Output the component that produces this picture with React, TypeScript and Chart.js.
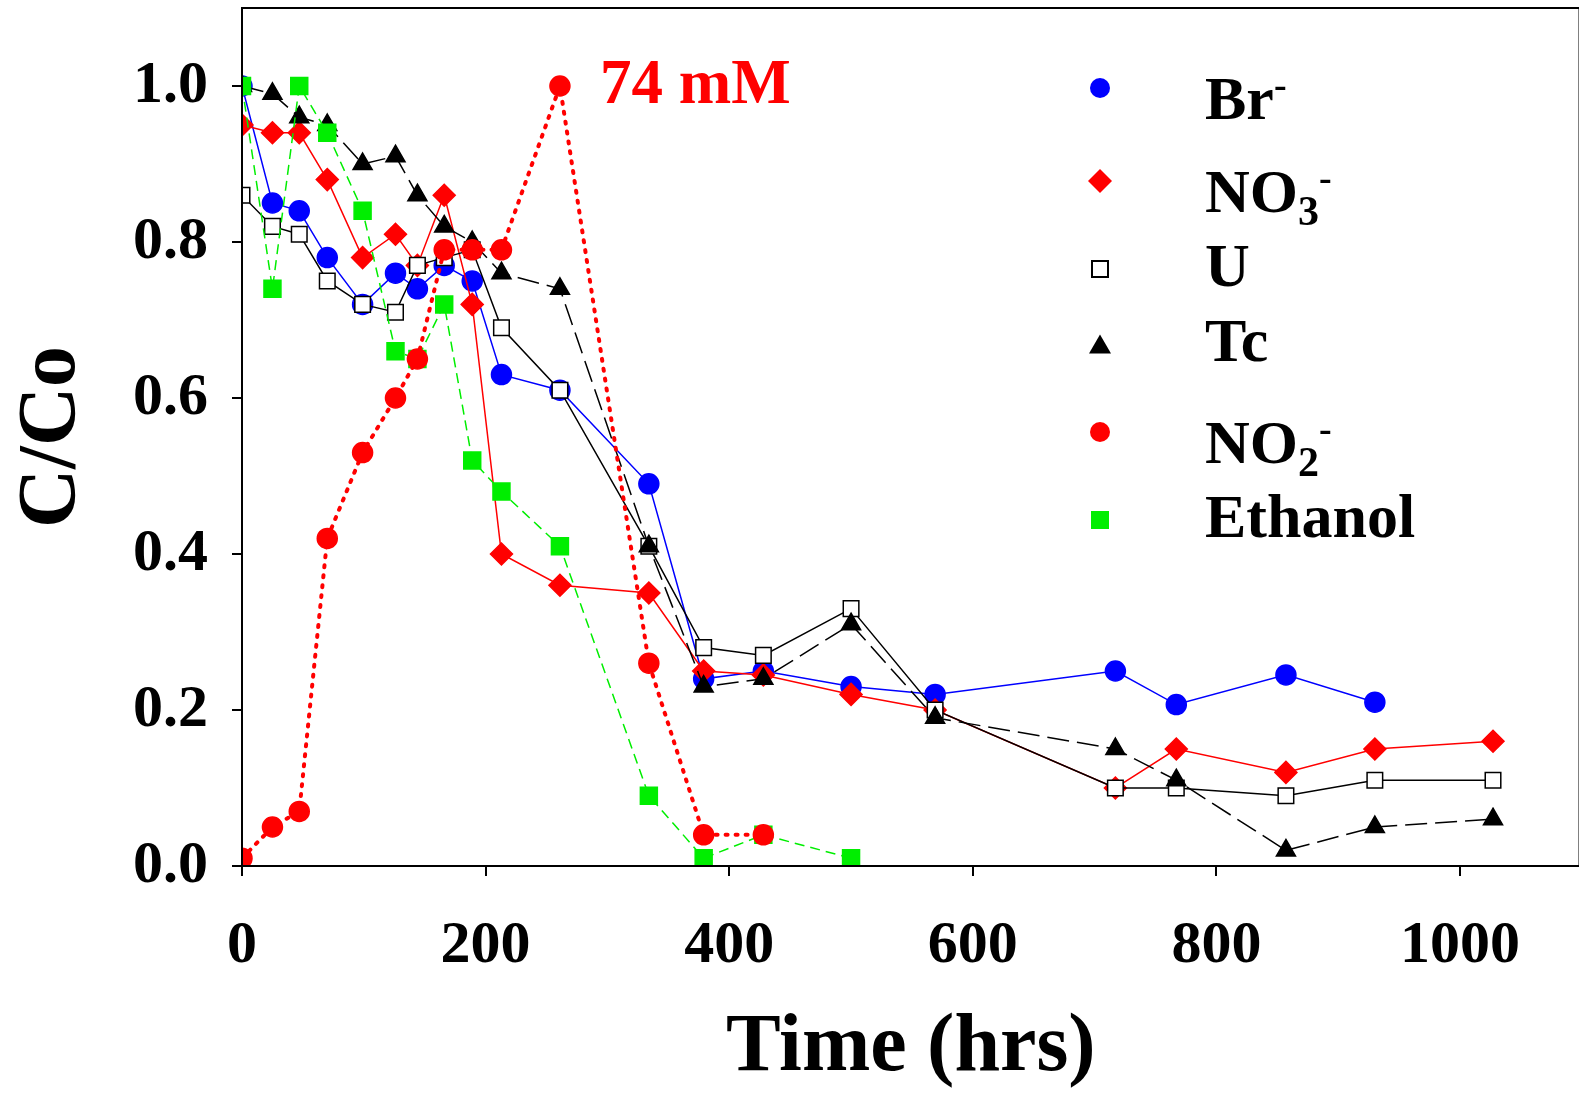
import { useEffect, useRef } from "react";
import { Chart, registerables } from "chart.js";

Chart.register(...registerables);

const times = [0, 25, 47, 70, 99, 126, 144, 166, 189, 213, 261, 334, 379, 428, 500, 569, 717, 767, 857, 930, 1027];
const xTicks = [0, 200, 400, 600, 800, 1000];
const yTicks = [0, 0.2, 0.4, 0.6, 0.8, 1.0];
const bromide = [1.0, 0.85, 0.84, 0.78, 0.72, 0.76, 0.74, 0.77, 0.75, 0.63, 0.61, 0.49, 0.24, 0.25, 0.23, 0.22, 0.25, 0.207, 0.245, 0.21];
const nitrate = [0.95, 0.94, 0.94, 0.88, 0.78, 0.81, 0.77, 0.86, 0.72, 0.4, 0.36, 0.35, 0.25, 0.245, 0.22, 0.2, 0.1, 0.15, 0.12, 0.15, 0.16];
const uranium = [0.86, 0.82, 0.81, 0.75, 0.72, 0.71, 0.77, 0.78, 0.79, 0.69, 0.61, 0.41, 0.28, 0.27, 0.33, 0.2, 0.1, 0.1, 0.09, 0.11, 0.11];
const technetium = [1.0, 0.99, 0.96, 0.95, 0.9, 0.91, 0.86, 0.82, 0.8, 0.76, 0.74, 0.41, 0.23, 0.24, 0.31, 0.19, 0.15, 0.11, 0.02, 0.05, 0.06];
const nitrite = [0.01, 0.05, 0.07, 0.42, 0.53, 0.6, 0.65, 0.79, 0.79, 0.79, 1.0, 0.26, 0.04, 0.04];
const ethanol = [1.0, 0.74, 1.0, 0.94, 0.84, 0.66, 0.65, 0.72, 0.52, 0.48, 0.41, 0.09, 0.01, 0.04, 0.01];

const pts = (ys: number[]) => ys.map((y, i) => ({ x: times[i], y }));
const font = "'Liberation Serif', 'Times New Roman', serif";

const boxPlugin = {
  id: "box",
  afterDraw(chart: Chart) {
    const { ctx, chartArea: a } = chart;
    ctx.save();
    ctx.strokeStyle = "#000";
    ctx.lineWidth = 2;
    ctx.strokeRect(a.left, a.top, a.right - a.left, a.bottom - a.top);
    ctx.restore();
  },
};

export default function App() {
  const canvasRef = useRef<HTMLCanvasElement>(null);

  useEffect(() => {
    if (!canvasRef.current) return;
    const common = { borderWidth: 1.5, pointRadius: 10, pointBorderWidth: 1.5, tension: 0, fill: false };
    const chart = new Chart(canvasRef.current, {
      type: "line",
      data: {
        datasets: [
          { ...common, data: pts(nitrite), borderColor: "#ff0000", backgroundColor: "#ff0000", borderDash: [2, 8], borderWidth: 4, borderCapStyle: "round", pointStyle: "circle" },
          { ...common, data: pts(ethanol), borderColor: "#00ee00", backgroundColor: "#00ee00", borderDash: [10, 6], pointStyle: "rect", pointRadius: 12 },
          { ...common, data: pts(technetium), borderColor: "#000", backgroundColor: "#000", borderDash: [22, 8], pointStyle: "triangle", pointRadius: 11 },
          { ...common, data: pts(uranium), borderColor: "#000", backgroundColor: "#fff", pointBorderColor: "#000", pointStyle: "rect", pointRadius: 11 },
          { ...common, data: pts(nitrate), borderColor: "#ff0000", backgroundColor: "#ff0000", pointStyle: "rectRot", pointRadius: 11 },
          { ...common, data: pts(bromide), borderColor: "#0000ff", backgroundColor: "#0000ff", pointStyle: "circle" },
        ],
      },
      options: {
        responsive: false,
        animation: false,
        layout: { padding: { top: 0, right: 0, left: 0, bottom: 0 } },
        plugins: { legend: { display: false }, tooltip: { enabled: false } },
        scales: {
          x: {
            type: "linear",
            min: 0,
            max: 1098,
            afterBuildTicks: (s: any) => { s.ticks = xTicks.map((value) => ({ value })); },
            afterFit: (s: any) => { s.height = 236; },
            ticks: {
              autoSkip: false,
              maxRotation: 0,
              color: "#000",
              padding: 34,
              font: { family: font, size: 60, weight: "bold" },
              callback: (v: any) => String(v),
            },
            grid: { drawOnChartArea: false, tickLength: 10, color: "#000", lineWidth: 2 },
            border: { display: false },
            title: { display: true, text: "Time (hrs)", color: "#000", font: { family: font, size: 82, weight: "bold" }, padding: { top: 10 } },
          },
          y: {
            min: 0,
            max: 1.1,
            afterBuildTicks: (s: any) => { s.ticks = yTicks.map((value) => ({ value })); },
            afterFit: (s: any) => { s.width = 242; },
            ticks: {
              autoSkip: false,
              color: "#000",
              padding: 24,
              font: { family: font, size: 60, weight: "bold", lineHeight: 0.2 },
              callback: (v: any) => Number(v).toFixed(1),
            },
            grid: { drawOnChartArea: false, tickLength: 10, color: "#000", lineWidth: 2 },
            border: { display: false },
            title: { display: true, text: "C/Co", color: "#000", font: { family: font, size: 82, weight: "bold" }, padding: { top: 4, bottom: 0 } },
          },
        },
      },
      plugins: [boxPlugin],
    });
    return () => chart.destroy();
  }, []);

  const legend: { y: number; label: any; style: any }[] = [
    { y: 88, label: <>Br<sup style={{ fontSize: 38 }}>-</sup></>, style: { width: 20, height: 20, borderRadius: 10, background: "#0000ff" } },
    { y: 181, label: <>NO<sub style={{ fontSize: 42 }}>3</sub><sup style={{ fontSize: 38 }}>-</sup></>, style: { width: 17, height: 17, background: "#ff0000", transform: "rotate(45deg)" } },
    { y: 269, label: <>U</>, style: { width: 14, height: 14, border: "2px solid #000", background: "#fff" } },
    { y: 344, label: <>Tc</>, style: { width: 0, height: 0, borderLeft: "11px solid transparent", borderRight: "11px solid transparent", borderBottom: "19px solid #000" } },
    { y: 432, label: <>NO<sub style={{ fontSize: 42 }}>2</sub><sup style={{ fontSize: 38 }}>-</sup></>, style: { width: 20, height: 20, borderRadius: 10, background: "#ff0000" } },
    { y: 520, label: <>Ethanol</>, style: { width: 18, height: 18, background: "#00ee00" } },
  ];

  return (
    <div style={{ position: "absolute", left: 0, top: 0, width: 1579, height: 1102, background: "#fff", fontFamily: font, overflow: "hidden" }}>
      <canvas ref={canvasRef} width={1593} height={1124} style={{ position: "absolute", left: 0, top: -22 }} />
      <div style={{ position: "absolute", left: 600, top: 50, color: "#ff0000", fontWeight: "bold", fontSize: 63, lineHeight: "64px" }}>74 mM</div>
      {legend.map((l, i) => (
        <div key={i}>
          <div style={{ position: "absolute", left: 1100, top: l.y, transform: "translate(-50%, -50%)" }}>
            <div style={l.style} />
          </div>
          <div style={{ position: "absolute", left: 1205, top: l.y - 38, fontWeight: "bold", fontSize: 62, lineHeight: "68px", whiteSpace: "nowrap" }}>{l.label}</div>
        </div>
      ))}
    </div>
  );
}
